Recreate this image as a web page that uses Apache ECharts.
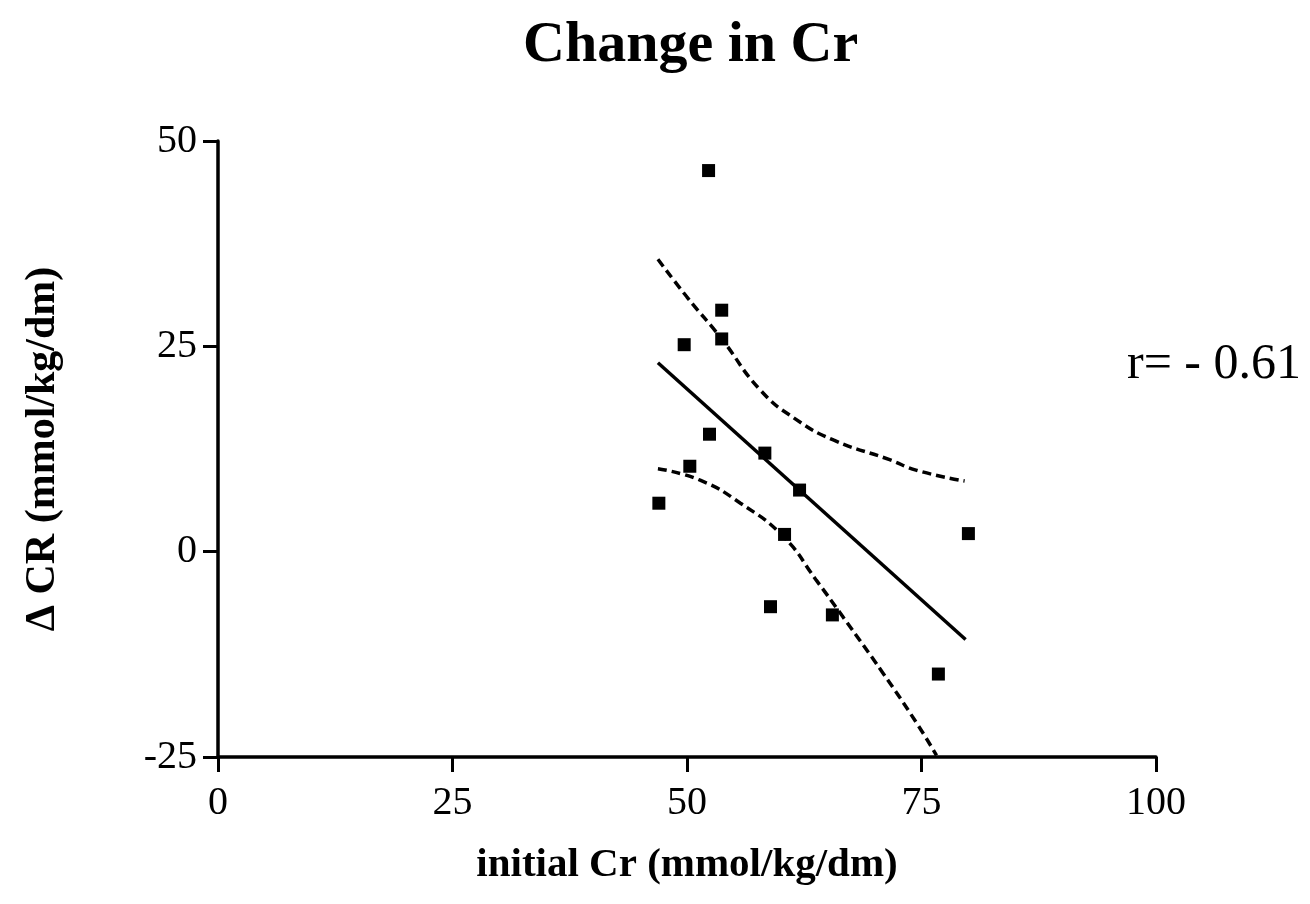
<!DOCTYPE html>
<html>
<head>
<meta charset="utf-8">
<script src="https://cdn.jsdelivr.net/npm/echarts@6/dist/echarts.min.js"></script>
<style>
  html, body { margin: 0; padding: 0; background: #fff; }
  #chart { width: 1310px; height: 904px; }
</style>
</head>
<body>
<div id="chart"></div>
<script>
// measured points (initial Cr, change in Cr)
const points = [
  [52.3, 46.4], [53.7, 29.4], [53.7, 25.9], [49.7, 25.2],
  [52.4, 14.3], [58.3, 12.0], [50.3, 10.4], [47.0, 5.9],
  [62.0, 7.5], [60.4, 2.1], [80.0, 2.2], [58.9, -6.7],
  [65.5, -7.7], [76.8, -14.9]
];

// regression line
const fitLine = [[46.9, 23.0], [79.7, -10.7]];

// 95% confidence bands
const upperBand = [
  [46.9, 35.6], [50.0, 31.0], [53.7, 25.9], [57.8, 19.7], [61.5, 16.2],
  [65.6, 13.6], [71.6, 11.2], [74.5, 9.9], [79.6, 8.6]
];
const lowerBand = [
  [46.9, 10.1], [51.4, 8.7], [55.7, 5.9], [60.3, 1.8], [63.8, -3.5],
  [66.6, -7.9], [70.9, -14.8], [74.5, -20.9], [76.6, -24.8]
];

const serif = 'Liberation Serif';

const chart = echarts.init(document.getElementById('chart'));

const options = {
  backgroundColor: '#fff',
  animation: false,
  title: {
    text: 'Change in Cr',
    left: 518,
    top: 12,
    textStyle: {
      fontFamily: serif,
      fontSize: 58,
      fontWeight: 'bold',
      color: '#000',
    },
  },
  grid: {
    left: 218,
    right: 154,
    top: 141,
    bottom: 147,
  },
  xAxis: {
    type: 'value',
    min: 0,
    max: 100,
    interval: 25,
    name: 'initial Cr (mmol/kg/dm)',
    nameLocation: 'middle',
    nameGap: 88,
    nameTextStyle: {
      fontFamily: serif,
      fontSize: 41,
      fontWeight: 'bold',
      color: '#000',
    },
    splitLine: { show: false },
    axisLine: { onZero: false, lineStyle: { color: '#000', width: 3.5 } },
    axisTick: { length: 15, lineStyle: { color: '#000', width: 3 } },
    axisLabel: {
      fontFamily: serif,
      fontSize: 40,
      color: '#000',
      margin: 26,
    },
  },
  yAxis: {
    type: 'value',
    min: -25,
    max: 50,
    interval: 25,
    name: 'Δ CR (mmol/kg/dm)',
    nameLocation: 'middle',
    nameGap: 154,
    nameTextStyle: {
      fontFamily: serif,
      fontSize: 42,
      fontWeight: 'bold',
      color: '#000',
    },
    splitLine: { show: false },
    axisLine: { onZero: false, lineStyle: { color: '#000', width: 3.5 } },
    axisTick: { length: 15, lineStyle: { color: '#000', width: 3 } },
    axisLabel: {
      fontFamily: serif,
      fontSize: 40,
      color: '#000',
      margin: 21,
    },
  },
  graphic: [
    {
      type: 'text',
      left: 1127,
      top: 340,
      style: {
        text: 'r= - 0.61',
        font: '50px "Liberation Serif"',
        fill: '#000',
      },
    },
  ],
  series: [
    {
      name: 'upper',
      type: 'line',
      data: upperBand,
      smooth: true,
      symbol: 'none',
      lineStyle: { color: '#000', width: 3.5, type: [9, 5] },
    },
    {
      name: 'lower',
      type: 'line',
      data: lowerBand,
      smooth: true,
      symbol: 'none',
      lineStyle: { color: '#000', width: 3.5, type: [9, 5] },
    },
    {
      name: 'fit',
      type: 'line',
      data: fitLine,
      symbol: 'none',
      lineStyle: { color: '#000', width: 3.5 },
    },
    {
      name: 'points',
      type: 'scatter',
      data: points,
      symbol: 'rect',
      symbolSize: 13,
      itemStyle: { color: '#000', opacity: 1 },
      z: 5,
    },
  ],
};

chart.setOption(options);
</script>
</body>
</html>
